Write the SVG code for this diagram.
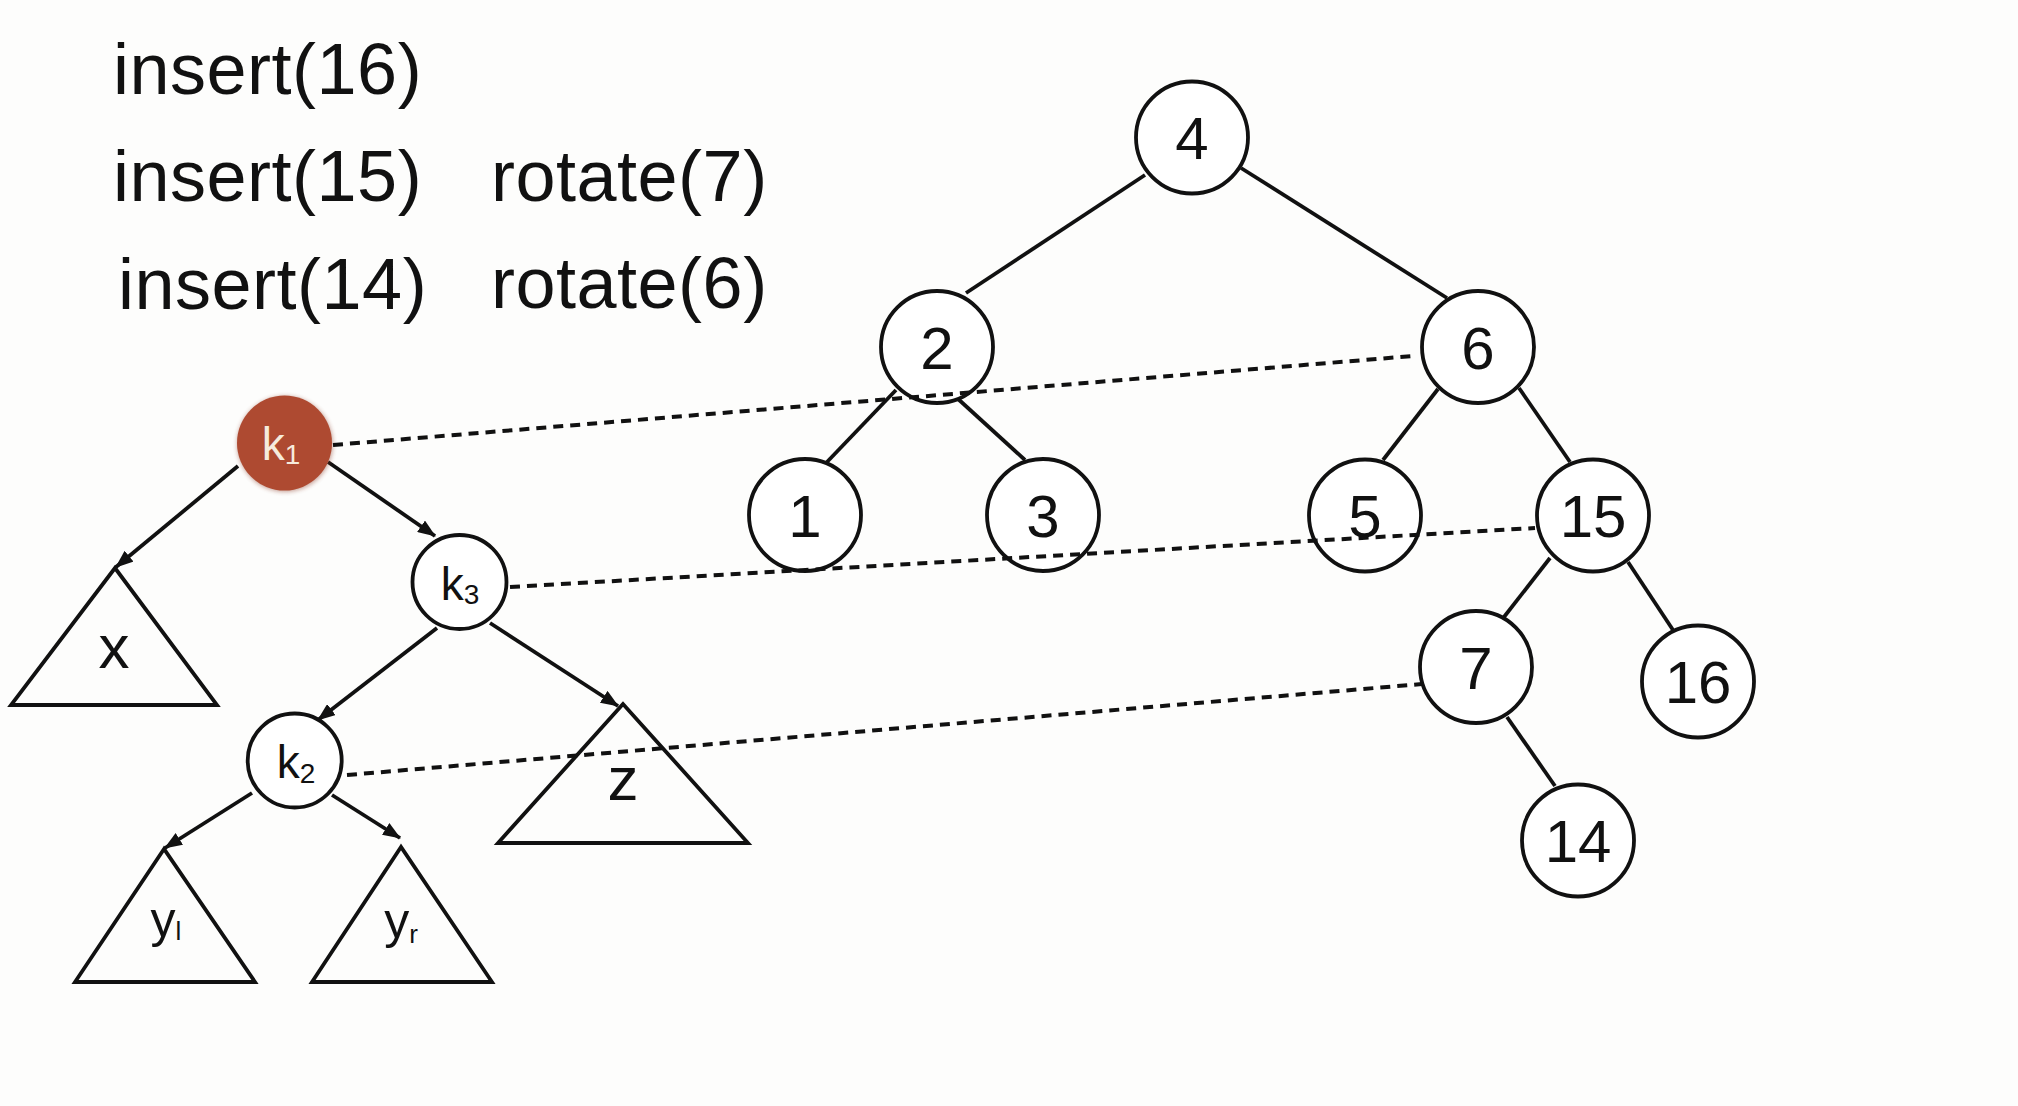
<svg xmlns="http://www.w3.org/2000/svg" width="2018" height="1106" viewBox="0 0 2018 1106">
  <defs>
    <style>
      .txt { font-family: "Liberation Sans", Arial, Helvetica, sans-serif; fill: #111; }
      .op { font-size: 72px; letter-spacing: 0.5px; }
      .num { font-size: 60px; text-anchor: middle; }
      .key { font-size: 46px; text-anchor: middle; }
      .sub { font-size: 28px; }
      .tri-lbl { font-size: 62px; text-anchor: middle; }
      .tri-y { font-size: 50px; text-anchor: middle; }
      .tri-sub { font-size: 26px; }
      .node { fill: #ffffff; stroke: #111; stroke-width: 3.8; }
      .tri { fill: none; stroke: #111; stroke-width: 3.8; stroke-linejoin: miter; }
      .edge { stroke: #111; stroke-width: 3.8; fill: none; }
      .arrow { stroke: #111; stroke-width: 3.8; fill: none; marker-end: url(#head); }
      .link { stroke: #111; stroke-width: 4; fill: none; stroke-dasharray: 10 7; }
    </style>
    <marker id="head" viewBox="0 0 18 14" refX="17" refY="7" markerWidth="18" markerHeight="14" markerUnits="userSpaceOnUse" orient="auto">
      <path d="M0,0 L18,7 L0,14 Z" fill="#111"/>
    </marker>
    <filter id="soft" x="-20%" y="-20%" width="140%" height="140%">
      <feGaussianBlur stdDeviation="2"/>
    </filter>
  </defs>

  <rect x="0" y="0" width="2018" height="1106" fill="#fdfdfc"/>

  <!-- operation list -->
  <g id="ops" class="txt op">
    <text x="113" y="94">insert(16)</text>
    <text x="113" y="201">insert(15)</text>
    <text x="118" y="309">insert(14)</text>
    <text x="491" y="201">rotate(7)</text>
    <text x="491" y="308">rotate(6)</text>
  </g>

  <!-- tree edges and pointer arrows -->
  <g id="connectors">
    <line class="edge" x1="1145" y1="175" x2="966" y2="293"/>
    <line class="edge" x1="1241" y1="168" x2="1447" y2="298"/>
    <line class="edge" x1="896" y1="390" x2="827" y2="462"/>
    <line class="edge" x1="957" y1="398" x2="1025" y2="460"/>
    <line class="edge" x1="1438" y1="389" x2="1383" y2="460"/>
    <line class="edge" x1="1519" y1="388" x2="1570" y2="462"/>
    <line class="edge" x1="1550" y1="558" x2="1504" y2="617"/>
    <line class="edge" x1="1628" y1="562" x2="1673" y2="630"/>
    <line class="edge" x1="1507" y1="717" x2="1555" y2="786"/>

    <line class="arrow" x1="238" y1="466" x2="116" y2="567"/>
    <line class="arrow" x1="328" y1="462" x2="435" y2="536"/>
    <line class="arrow" x1="437" y1="628" x2="318" y2="720"/>
    <line class="arrow" x1="490" y1="623" x2="618" y2="706"/>
    <line class="arrow" x1="252" y1="793" x2="165" y2="848"/>
    <line class="arrow" x1="332" y1="795" x2="400" y2="838"/>
  </g>

  <!-- right-hand tree -->
  <g id="n4"><circle class="node" cx="1192" cy="137.5" r="56"/><text class="txt num" x="1192" y="159">4</text></g>
  <g id="n2"><circle class="node" cx="937" cy="347" r="56"/><text class="txt num" x="937" y="369">2</text></g>
  <g id="n6"><circle class="node" cx="1478" cy="347" r="56"/><text class="txt num" x="1478" y="369">6</text></g>
  <g id="n1"><circle class="node" cx="805" cy="515" r="56"/><text class="txt num" x="805" y="537">1</text></g>
  <g id="n3"><circle class="node" cx="1043" cy="515" r="56"/><text class="txt num" x="1043" y="537">3</text></g>
  <g id="n5"><circle class="node" cx="1365" cy="515.5" r="56"/><text class="txt num" x="1365" y="537">5</text></g>
  <g id="n15"><circle class="node" cx="1593" cy="515.5" r="56"/><text class="txt num" x="1593" y="537">15</text></g>
  <g id="n7"><circle class="node" cx="1476" cy="667" r="56"/><text class="txt num" x="1476" y="689">7</text></g>
  <g id="n16"><circle class="node" cx="1698" cy="681.5" r="56"/><text class="txt num" x="1698" y="703">16</text></g>
  <g id="n14"><circle class="node" cx="1578" cy="840.5" r="56"/><text class="txt num" x="1578" y="862">14</text></g>

  <!-- left-hand rotation sketch -->
  <g id="k1">
    <circle cx="285" cy="444" r="48" fill="#8a3a26" opacity="0.45" filter="url(#soft)"/>
    <circle cx="284.5" cy="443" r="47.5" fill="#ae4a31"/>
    <text class="txt key" x="281" y="460" style="fill:#f6ebdc">k<tspan class="sub" dy="4">1</tspan></text>
  </g>
  <g id="k3">
    <circle class="node" cx="459.5" cy="582" r="47"/>
    <text class="txt key" x="460" y="600">k<tspan class="sub" dy="4">3</tspan></text>
  </g>
  <g id="k2">
    <circle class="node" cx="294.7" cy="760.5" r="47"/>
    <text class="txt key" x="296" y="778">k<tspan class="sub" dy="5">2</tspan></text>
  </g>
  <g id="tx">
    <polygon class="tri" points="115,568 11,705 217,705"/>
    <text class="txt tri-lbl" x="114" y="668">x</text>
  </g>
  <g id="tz">
    <polygon class="tri" points="623,704 498,843 748,843"/>
    <text class="txt tri-lbl" x="623" y="800">z</text>
  </g>
  <g id="tyl">
    <polygon class="tri" points="164,849 75,982 255,982"/>
    <text class="txt tri-y" x="166" y="937">y<tspan class="tri-sub" dy="3">l</tspan></text>
  </g>
  <g id="tyr">
    <polygon class="tri" points="401,847 312,982 492,982"/>
    <text class="txt tri-y" x="401" y="938">y<tspan class="tri-sub" dy="5">r</tspan></text>
  </g>

  <!-- dotted correspondence links -->
  <g id="links">
    <line class="link" x1="333" y1="445" x2="1413" y2="356"/>
    <line class="link" x1="510" y1="587" x2="1535" y2="528"/>
    <line class="link" x1="347" y1="775" x2="1422" y2="684"/>
  </g>
</svg>
